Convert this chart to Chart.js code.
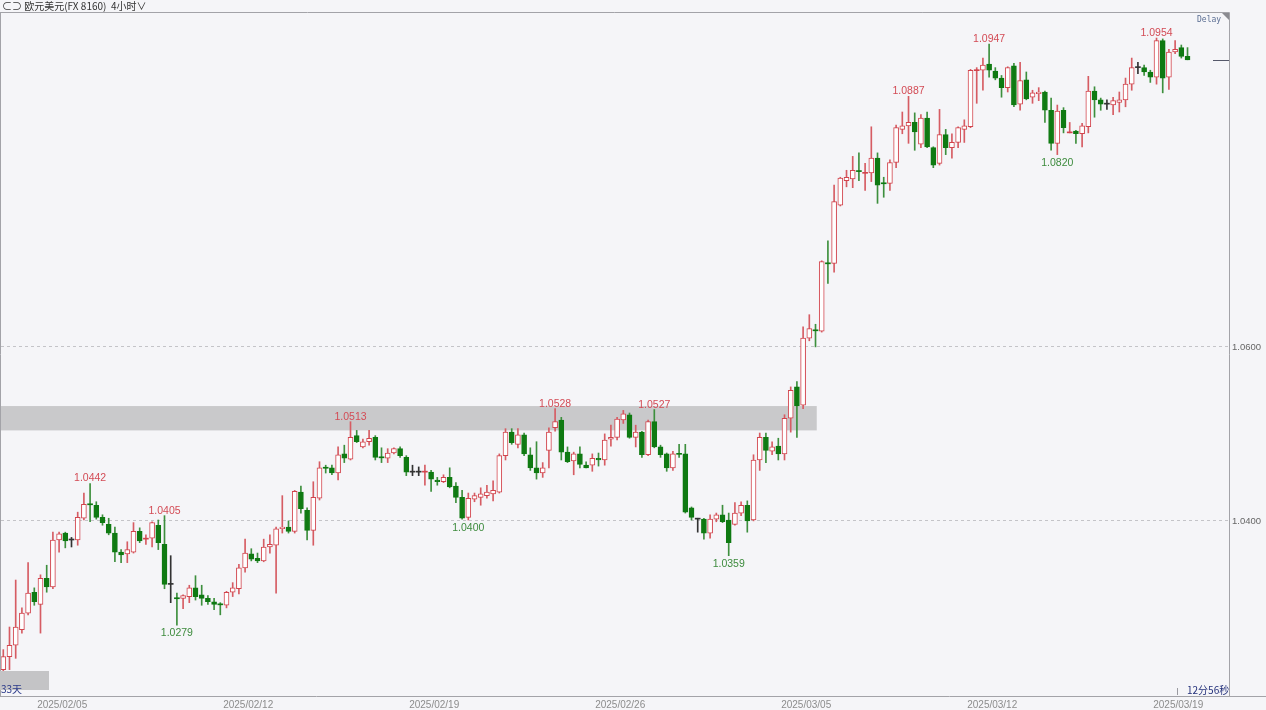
<!DOCTYPE html>
<html><head><meta charset="utf-8">
<script src="https://cdn.jsdelivr.net/npm/chart.js@4"></script>
<style>
html,body{margin:0;padding:0;background:#f5f5f8;width:1266px;height:710px;overflow:hidden;}
#wrap{position:relative;width:1266px;height:710px;}
canvas{position:absolute;left:0;top:0;}
.t{position:absolute;white-space:pre;}
#hdr{left:2px;top:0px;font:10px "Noto Sans CJK SC","DejaVu Sans",sans-serif;line-height:12px;color:#333;}
#delay{left:1197px;top:15px;font:8px "DejaVu Sans Mono",monospace;line-height:10px;color:#5b6e93;}
#days{left:1px;top:683px;font:10px "Noto Sans CJK SC",sans-serif;line-height:11px;color:#2b3a8a;}
#timer{left:1187px;top:684px;font:10px "Noto Sans CJK SC",sans-serif;line-height:11px;color:#23307a;}
</style></head><body>
<div id="wrap"><canvas id="c" width="1266" height="710"></canvas>
<div class="t" id="hdr">⊂⊃ 欧元美元(FX 8160)  4小时∨</div>
<div class="t" id="delay">Delay</div>
<div class="t" id="days">33天</div>
<div class="t" id="timer">12分56秒</div>
</div>
<script>
const opens = [
1.0228,1.0243,1.0256,1.0274,1.0293,1.0317,1.0303,1.0333,1.0323,1.0377,
1.0385,1.0377,1.0377,1.0402,1.0418,1.0417,1.0403,1.0395,1.0385,1.0363,
1.0361,1.0363,1.0387,1.0378,1.0379,1.0394,1.0372,1.0326,1.0310,1.0310,
1.0312,1.0322,1.0314,1.0310,1.0306,1.0303,1.0302,1.0317,1.0321,1.0345,
1.0361,1.0356,1.0353,1.0369,1.0371,1.0390,1.0392,1.0387,1.0432,1.0411,
1.0388,1.0425,1.0460,1.0460,1.0454,1.0476,1.0470,1.0497,1.0484,1.0490,
1.0495,1.0472,1.0471,1.0477,1.0482,1.0472,1.0455,1.0455,1.0455,1.0455,
1.0446,1.0444,1.0449,1.0439,1.0426,1.0403,1.0424,1.0426,1.0428,1.0430,
1.0432,1.0474,1.0501,1.0487,1.0498,1.0475,1.0460,1.0454,1.0480,1.0506,
1.0515,1.0478,1.0468,1.0476,1.0463,1.0463,1.0471,1.0469,1.0493,1.0495,
1.0515,1.0521,1.0495,1.0501,1.0475,1.0513,1.0484,1.0476,1.0460,1.0476,
1.0476,1.0414,1.0401,1.0401,1.0385,1.0401,1.0406,1.0400,1.0395,1.0408,
1.0417,1.0400,1.0469,1.0495,1.0479,1.0485,1.0476,1.0517,1.0553,1.0532,
1.0609,1.0618,1.0617,1.0695,1.0695,1.0762,1.0790,1.0792,1.0801,1.07985,
1.0799,1.0816,1.0787,1.0787,1.0811,1.0849,1.0853,1.0857,1.0832,1.0862,
1.0828,1.0810,1.0843,1.0828,1.0834,1.0849,1.0852,1.09165,1.0917,1.0924,
1.0916,1.0908,1.0897,1.0922,1.0878,1.0906,1.0886,1.0890,1.0892,1.0871,
1.0833,1.0871,1.0845,1.0847,1.0844,1.0852,1.0893,1.0883,1.0878,1.0877,
1.0880,1.0883,1.0901,1.0920,1.0920,1.0915,1.0909,1.0951,1.0909,1.0938,
1.0943,1.0933];
const highs = [
1.0251,1.0277,1.0331,1.0299,1.0351,1.0322,1.0337,1.0348,1.0386,1.0386,
1.0386,1.0380,1.0409,1.0431,1.0442,1.0421,1.0406,1.0402,1.0392,1.0366,
1.0375,1.0397,1.0391,1.0383,1.0398,1.0400,1.0405,1.0359,1.0316,1.0314,
1.0325,1.0336,1.0325,1.0313,1.0310,1.0305,1.0318,1.0328,1.0349,1.0378,
1.0367,1.0362,1.0378,1.0383,1.0392,1.0428,1.0399,1.0434,1.0439,1.0414,
1.0444,1.0467,1.0463,1.0463,1.0484,1.0486,1.0513,1.0503,1.0493,1.0503,
1.0497,1.0483,1.0482,1.0483,1.0484,1.0474,1.0463,1.0461,1.0463,1.0457,
1.0449,1.0452,1.0460,1.0443,1.0434,1.0431,1.0431,1.0437,1.0440,1.0445,
1.0476,1.0505,1.0505,1.0505,1.0500,1.0483,1.0490,1.0466,1.0506,1.0528,
1.0518,1.0484,1.0478,1.0484,1.0467,1.0476,1.0477,1.0499,1.0509,1.0518,
1.0526,1.0523,1.0509,1.0502,1.0515,1.0527,1.0486,1.0477,1.0479,1.0487,
1.0487,1.0415,1.0402,1.0402,1.0406,1.0408,1.0417,1.0408,1.0420,1.0421,
1.0422,1.0475,1.0500,1.0500,1.0490,1.0494,1.0521,1.0553,1.0559,1.0622,
1.0636,1.0625,1.0698,1.0721,1.0785,1.0794,1.0802,1.0818,1.0822,1.0810,
1.0852,1.0822,1.0794,1.0814,1.0854,1.0869,1.0887,1.0868,1.0866,1.0869,
1.0829,1.0872,1.0849,1.0844,1.0852,1.0860,1.0918,1.0920,1.0931,1.0947,
1.0920,1.0911,1.0921,1.0925,1.0926,1.0915,1.0894,1.0897,1.0893,1.0885,
1.0877,1.0874,1.0857,1.0848,1.0856,1.0910,1.0898,1.0885,1.0883,1.0886,
1.0892,1.0908,1.0931,1.0926,1.0923,1.0917,1.0954,1.0953,1.0941,1.0951,
1.0946,1.0943];
const lows = [
1.0212,1.0228,1.0241,1.0270,1.0291,1.0302,1.0270,1.0317,1.0321,1.0363,
1.0368,1.0369,1.0371,1.0400,1.0398,1.0401,1.0394,1.0383,1.0352,1.0351,
1.0351,1.0362,1.0374,1.0372,1.0369,1.0366,1.0321,1.0305,1.0279,1.0298,
1.0305,1.0308,1.0302,1.0303,1.0297,1.0291,1.0299,1.0312,1.0315,1.0340,
1.0353,1.0351,1.0352,1.0362,1.0316,1.0385,1.0385,1.0385,1.0408,1.0377,
1.0371,1.0423,1.0454,1.0452,1.0446,1.0466,1.0469,1.0489,1.0483,1.0486,
1.0469,1.0466,1.0466,1.0476,1.0472,1.0451,1.0451,1.0451,1.0440,1.0433,
1.0440,1.0443,1.0437,1.0420,1.0401,1.0400,1.0421,1.0417,1.0425,1.0422,
1.0431,1.0469,1.0487,1.0483,1.0474,1.0457,1.0447,1.0449,1.0460,1.0502,
1.0469,1.0466,1.0452,1.0460,1.0460,1.0456,1.0462,1.0463,1.0485,1.0492,
1.0511,1.0494,1.0484,1.0472,1.0474,1.0483,1.0472,1.0456,1.0457,1.0472,
1.0408,1.0400,1.0386,1.0378,1.0379,1.0398,1.0397,1.0359,1.0394,1.0405,
1.0386,1.0399,1.0457,1.0466,1.0475,1.0469,1.0469,1.0501,1.0495,1.0528,
1.0606,1.0599,1.0616,1.0672,1.0685,1.0761,1.0783,1.0782,1.0790,1.0779,
1.0789,1.0764,1.0771,1.0779,1.0805,1.0844,1.0833,1.0825,1.0828,1.0828,
1.0805,1.0808,1.0820,1.0816,1.0828,1.0834,1.0851,1.0879,1.0894,1.0909,
1.0906,1.0886,1.0892,1.0875,1.0871,1.0883,1.0879,1.0882,1.0857,1.0825,
1.0820,1.0845,1.0845,1.0833,1.0829,1.0845,1.0863,1.0871,1.0872,1.0866,
1.0869,1.0875,1.0894,1.0913,1.0911,1.0903,1.0901,1.0891,1.0895,1.0936,
1.0931,1.0929];
const closes = [
1.0243,1.0256,1.0277,1.0293,1.0316,1.0306,1.0333,1.0323,1.0377,1.0384,
1.0376,1.0377,1.0403,1.0418,1.04175,1.0403,1.0397,1.0385,1.0363,1.0360,
1.0366,1.0387,1.0376,1.03785,1.0397,1.0374,1.0326,1.0326,1.03095,1.0313,
1.0322,1.0312,1.0310,1.0306,1.0303,1.03025,1.0317,1.0322,1.0345,1.0362,
1.0355,1.0353,1.0369,1.0372,1.0390,1.0392,1.0387,1.0433,1.0413,1.0388,
1.0426,1.0460,1.04595,1.0454,1.0475,1.0471,1.0495,1.0490,1.0490,1.0494,
1.0472,1.04715,1.0477,1.0482,1.0474,1.0455,1.0455,1.0455,1.04555,1.0447,
1.0444,1.0449,1.0438,1.0426,1.0402,1.0425,1.0428,1.0430,1.0432,1.0434,
1.0474,1.0501,1.0489,1.0498,1.0476,1.0460,1.0454,1.0460,1.0501,1.0513,
1.0478,1.0467,1.0476,1.0464,1.0460,1.0471,1.0469,1.0492,1.0495,1.0516,
1.0522,1.0495,1.0501,1.0475,1.0513,1.0484,1.0475,1.0460,1.0476,1.04755,
1.0409,1.0403,1.0401,1.0385,1.0401,1.0406,1.0398,1.0374,1.0408,1.0417,
1.0399,1.0469,1.0495,1.0480,1.0484,1.0476,1.0517,1.0549,1.0531,1.0609,
1.0620,1.06175,1.0697,1.06945,1.0766,1.0793,1.0794,1.0802,1.08005,1.0799,
1.0816,1.0785,1.07865,1.0811,1.0851,1.0853,1.0857,1.0846,1.0862,1.0829,
1.0808,1.0843,1.0828,1.0834,1.0851,1.0853,1.0917,1.0917,1.0923,1.0917,
1.0908,1.0897,1.0920,1.0877,1.0905,1.0884,1.0891,1.0892,1.0871,1.0833,
1.0870,1.0851,1.08455,1.0844,1.0853,1.0893,1.0883,1.0878,1.0878,1.0882,
1.0883,1.0901,1.0920,1.0920,1.0915,1.0909,1.0951,1.0908,1.0938,1.0941,
1.0933,1.0929];

const highLabelIdx = [14, 26, 56, 89, 105, 146, 159, 186];
const lowLabelIdx = [28, 75, 117, 170];
const yTickValues = [1.0400, 1.0600];
const dateLabels = ['2025/02/05','2025/02/12','2025/02/19','2025/02/26','2025/03/05','2025/03/12','2025/03/19'];
const dateLabelIdx = [9.5, 39.5, 69.5, 99.5, 129.5, 159.5, 189.5];
const zonePrices = [1.0503, 1.0531];
const zoneEndIdx = 131.2;

const RED = '#d2444d', RED_WICK = '#d65c63', GREEN = '#0f7a12', GREEN_WICK = '#3d8f3d', DOJI = '#333333';
const idx = opens.map((_, i) => i);
const dir = i => closes[i] > opens[i] ? 1 : (closes[i] < opens[i] ? -1 : 0);
const isCross = i => Math.abs(closes[i] - opens[i]) < 0.0001;

const decor = {
  id: 'decor',
  beforeDatasetsDraw(chart) {
    const {ctx, chartArea: a, scales: {x, y}} = chart;
    ctx.save();
    // resistance zone
    const zx0 = a.left - 1, zx1 = x.getPixelForValue(zoneEndIdx);
    const zy0 = y.getPixelForValue(zonePrices[1]), zy1 = y.getPixelForValue(zonePrices[0]);
    ctx.fillStyle = '#c9c9cb';
    ctx.fillRect(zx0, zy0, zx1 - zx0, zy1 - zy0);
    // grid lines
    ctx.strokeStyle = '#c4c4c8';
    ctx.lineWidth = 1;
    ctx.setLineDash([3, 3]);
    yTickValues.forEach(v => {
      const py = Math.round(y.getPixelForValue(v)) + 0.5;
      ctx.beginPath(); ctx.moveTo(a.left, py); ctx.lineTo(a.right, py); ctx.stroke();
    });
    ctx.setLineDash([]);
    ctx.restore();
  },
  afterDatasetsDraw(chart) {
    const {ctx, chartArea: a, scales: {x, y}} = chart;
    ctx.save();
    ctx.font = '10.5px "Liberation Sans", Arial, sans-serif';
    ctx.textAlign = 'center';
    ctx.textBaseline = 'alphabetic';
    ctx.fillStyle = '#d34b55';
    highLabelIdx.forEach(i => {
      ctx.fillText(highs[i].toFixed(4), x.getPixelForValue(i), y.getPixelForValue(highs[i]) - 2);
    });
    ctx.fillStyle = '#3d8b3d';
    lowLabelIdx.forEach(i => {
      ctx.fillText(lows[i].toFixed(4), x.getPixelForValue(i), y.getPixelForValue(lows[i]) + 11);
    });
    // right axis labels
    ctx.font = '9.5px "Liberation Sans", Arial, sans-serif';
    ctx.textAlign = 'left';
    ctx.textBaseline = 'middle';
    ctx.fillStyle = '#666';
    yTickValues.forEach(v => ctx.fillText(v.toFixed(4), a.right + 3, y.getPixelForValue(v) + 1));
    // date labels
    ctx.font = '10px "Liberation Sans", Arial, sans-serif';
    ctx.textAlign = 'center';
    ctx.textBaseline = 'alphabetic';
    ctx.fillStyle = '#8c8c8c';
    dateLabels.forEach((t, k) => ctx.fillText(t, x.getPixelForValue(dateLabelIdx[k]), 708));
    // current price marker
    const last = closes[closes.length - 1];
    const lp = Math.round(y.getPixelForValue(last)) + 0.5;
    ctx.strokeStyle = '#55586a';
    ctx.lineWidth = 1;
    ctx.beginPath(); ctx.moveTo(a.right - 16, lp); ctx.lineTo(a.right, lp); ctx.stroke();
    // frame
    ctx.strokeStyle = '#a3a3a8';
    ctx.beginPath();
    ctx.moveTo(0, a.top - 0.5); ctx.lineTo(a.right + 0.5, a.top - 0.5);
    ctx.moveTo(a.left - 0.5, a.top); ctx.lineTo(a.left - 0.5, a.bottom);
    ctx.moveTo(a.right + 0.5, a.top - 0.5); ctx.lineTo(a.right + 0.5, a.bottom);
    ctx.moveTo(0, a.bottom + 0.5); ctx.lineTo(1266, a.bottom + 0.5);
    ctx.stroke();
    // corner triangle
    ctx.fillStyle = '#8a8a90';
    ctx.beginPath(); ctx.moveTo(a.right - 7, a.top); ctx.lineTo(a.right, a.top); ctx.lineTo(a.right, a.top + 7); ctx.closePath(); ctx.fill();
    // bottom-left box
    ctx.fillStyle = '#c4c4c6';
    ctx.fillRect(0, 671, 49, 19);
    // small tick near timer
    ctx.strokeStyle = '#9a9aa0';
    ctx.beginPath(); ctx.moveTo(1177.5, 688); ctx.lineTo(1177.5, 695); ctx.stroke();
    ctx.restore();
  }
};

new Chart(document.getElementById('c'), {
  type: 'bar',
  data: {
    datasets: [
      {
        label: 'body',
        order: 0,
        grouped: false,
        barThickness: 5,
        minBarLength: 1,
        borderSkipped: false,
        data: idx.map(i => ({x: i, y: [opens[i], closes[i]]})),
        backgroundColor: c => {
          const i = c.dataIndex, d = dir(i);
          if (isCross(i)) return d > 0 ? RED : (d < 0 ? GREEN : DOJI);
          return d > 0 ? '#ffffff' : GREEN;
        },
        borderColor: c => {
          const d = dir(c.dataIndex);
          return d > 0 ? RED : (d < 0 ? GREEN : DOJI);
        },
        borderWidth: c => isCross(c.dataIndex) ? 0 : 1
      },
      {
        label: 'wick',
        order: 1,
        grouped: false,
        barThickness: 1,
        borderWidth: 0,
        data: idx.map(i => ({x: i, y: [lows[i], highs[i]]})),
        backgroundColor: c => {
          const d = dir(c.dataIndex);
          return d > 0 ? RED_WICK : (d < 0 ? GREEN_WICK : DOJI);
        }
      }
    ]
  },
  options: {
    responsive: false,
    animation: false,
    devicePixelRatio: 1,
    layout: {padding: {left: 1, right: 37, top: 13, bottom: 14}},
    plugins: {legend: {display: false}, tooltip: {enabled: false}},
    scales: {
      x: {type: 'linear', min: -0.37, max: 197.69, offset: false, display: false},
      y: {type: 'linear', min: 1.01977, max: 1.09828, display: false}
    }
  },
  plugins: [decor]
});
</script>
</body></html>
